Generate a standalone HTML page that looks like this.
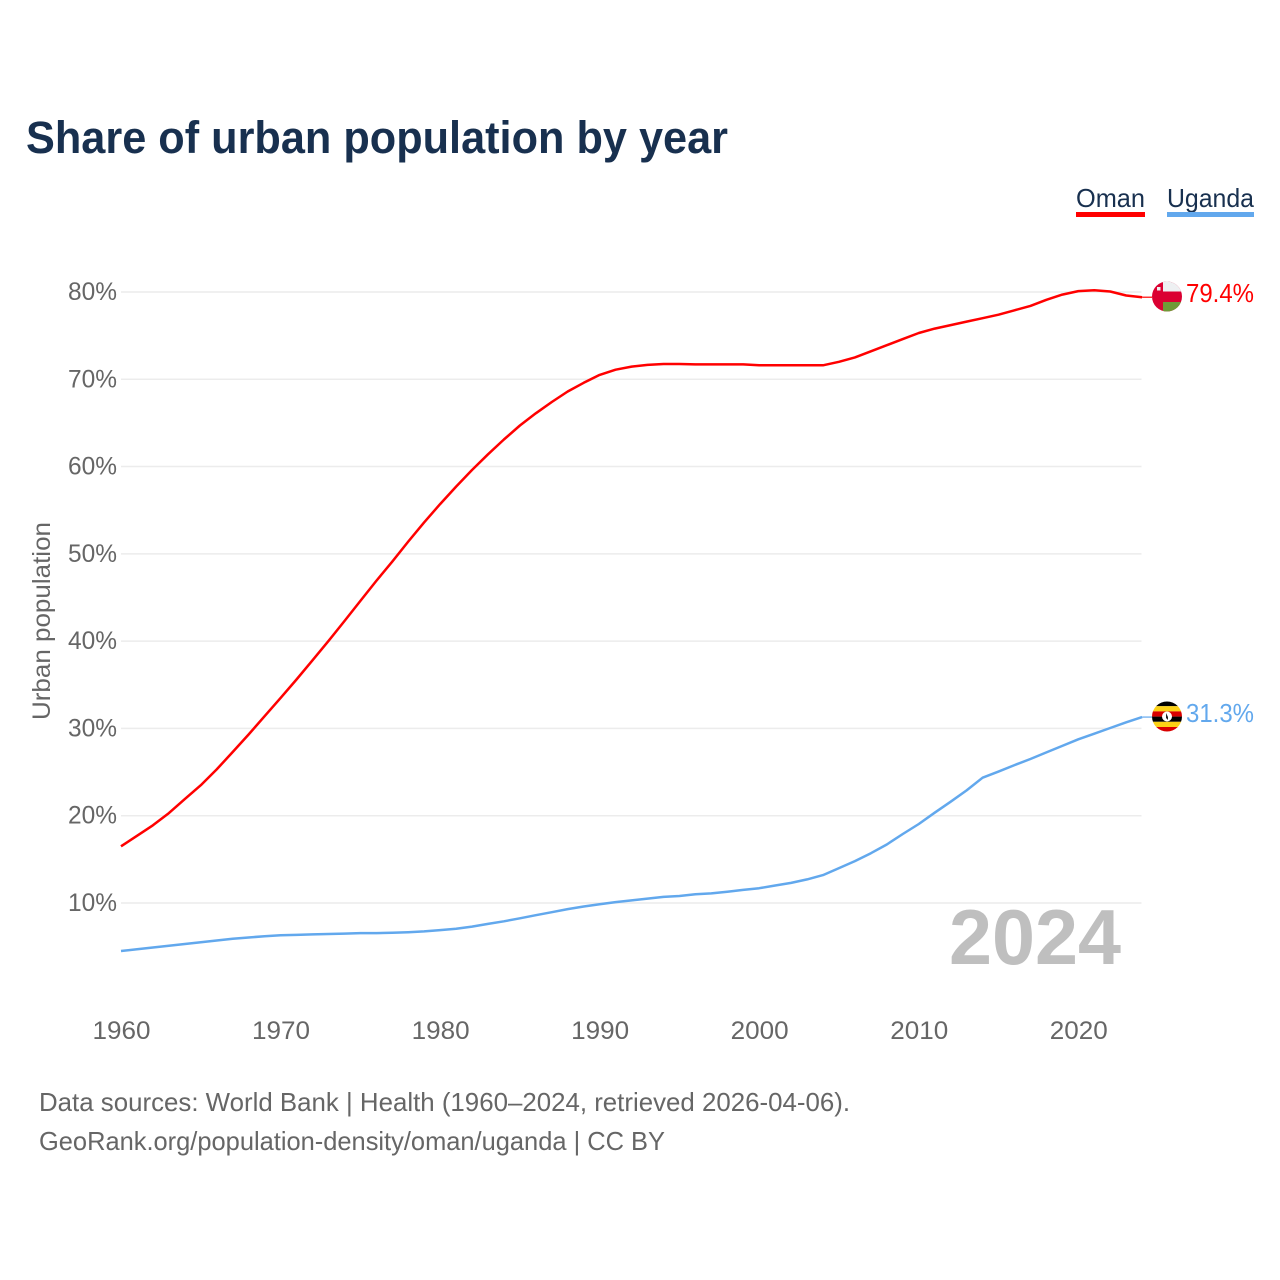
<!DOCTYPE html>
<html lang="en">
<head>
<meta charset="utf-8">
<title>Share of urban population by year</title>
<style>
html,body{margin:0;padding:0;background:#fff;width:1280px;height:1280px;overflow:hidden}
svg{display:block}
text{font-family:"Liberation Sans",sans-serif}
</style>
</head>
<body>
<svg id="chart" width="1280" height="1280" viewBox="0 0 1280 1280" xmlns="http://www.w3.org/2000/svg">
  <rect width="1280" height="1280" fill="#fff"/>
  <text x="26" y="153" font-size="45" font-weight="700" fill="#18304f" textLength="702" lengthAdjust="spacingAndGlyphs">Share of urban population by year</text>
  <g>
    <text x="1076" y="207" font-size="26" fill="#18304f" textLength="69" lengthAdjust="spacingAndGlyphs">Oman</text>
    <rect x="1076" y="212" width="69" height="5" fill="#ff0000"/>
  </g>
  <g>
    <text x="1167" y="207" font-size="26" fill="#18304f" textLength="87" lengthAdjust="spacingAndGlyphs">Uganda</text>
    <rect x="1167" y="212" width="87" height="5" fill="#62a8ed"/>
  </g>
  <g id="grid"></g>
  <g id="yticks"></g>
  <g id="xticks"></g>
  <text transform="translate(50,621) rotate(-90)" text-anchor="middle" font-size="25" fill="#666" textLength="198" lengthAdjust="spacingAndGlyphs">Urban population</text>
  <text x="949" y="964" font-size="78" font-weight="700" fill="#bfbfbf" textLength="172" lengthAdjust="spacingAndGlyphs">2024</text>
  <g id="series"></g>
  <g>
    <clipPath id="clip-om"><circle cx="1167" cy="296.5" r="15"/></clipPath>
    <g clip-path="url(#clip-om)">
      <rect x="1152" y="281" width="30" height="31" fill="#db0032"/>
      <rect x="1163" y="281" width="19" height="10.500" fill="#eef0f2"/>
      <rect x="1163" y="302" width="19" height="10" fill="#6f9a37"/>
      <rect x="1157" y="287" width="3.500" height="3.500" fill="#eee"/>
    </g>
  </g>
  <g>
    <clipPath id="clip-ug"><circle cx="1167" cy="716.5" r="15"/></clipPath>
    <g clip-path="url(#clip-ug)">
      <rect x="1152" y="701" width="30" height="5.200" fill="#000"/>
      <rect x="1152" y="706.200" width="30" height="5.200" fill="#fcd116"/>
      <rect x="1152" y="711.400" width="30" height="5.200" fill="#d90000"/>
      <rect x="1152" y="716.600" width="30" height="5.200" fill="#000"/>
      <rect x="1152" y="721.800" width="30" height="5.200" fill="#fcd116"/>
      <rect x="1152" y="727" width="30" height="5.200" fill="#d90000"/>
      <circle cx="1167" cy="716.500" r="5" fill="#fff"/>
      <path d="M1166 713v5l2 2v-3z" fill="#222"/>
    </g>
  </g>
  <text id="label-oman" x="1186" y="302" font-size="26" fill="#ff0000" textLength="68" lengthAdjust="spacingAndGlyphs"></text>
  <text id="label-uganda" x="1186" y="722" font-size="26" fill="#62a8ed" textLength="68" lengthAdjust="spacingAndGlyphs"></text>
  <text x="39" y="1111" font-size="26" fill="#666" textLength="811" lengthAdjust="spacingAndGlyphs">Data sources: World Bank | Health (1960–2024, retrieved 2026-04-06).</text>
  <a><text x="39" y="1150" font-size="26" fill="#666" textLength="626" lengthAdjust="spacingAndGlyphs">GeoRank.org/population-density/oman/uganda | CC BY</text></a>
</svg>
<script>
const years = [1960,1961,1962,1963,1964,1965,1966,1967,1968,1969,1970,1971,1972,1973,1974,1975,1976,1977,1978,1979,1980,1981,1982,1983,1984,1985,1986,1987,1988,1989,1990,1991,1992,1993,1994,1995,1996,1997,1998,1999,2000,2001,2002,2003,2004,2005,2006,2007,2008,2009,2010,2011,2012,2013,2014,2015,2016,2017,2018,2019,2020,2021,2022,2023,2024];
const omanValues = [16.5,17.7,18.9,20.3,21.9,23.5,25.3,27.3,29.3,31.4,33.5,35.6,37.8,40.0,42.3,44.6,46.9,49.1,51.4,53.6,55.7,57.7,59.6,61.4,63.1,64.7,66.1,67.4,68.6,69.6,70.5,71.1,71.45,71.65,71.75,71.75,71.7,71.7,71.7,71.7,71.6,71.6,71.6,71.6,71.6,72.0,72.5,73.2,73.9,74.6,75.3,75.8,76.2,76.6,77.0,77.4,77.9,78.4,79.1,79.7,80.1,80.2,80.05,79.6,79.4];
const ugandaValues = [4.5,4.7,4.9,5.1,5.3,5.5,5.7,5.9,6.05,6.2,6.3,6.35,6.4,6.45,6.5,6.55,6.55,6.6,6.65,6.75,6.9,7.05,7.3,7.6,7.9,8.25,8.6,8.95,9.3,9.6,9.85,10.1,10.3,10.5,10.7,10.8,11.0,11.1,11.3,11.5,11.7,12.0,12.3,12.7,13.2,14.0,14.8,15.7,16.7,17.9,19.05,20.35,21.6,22.9,24.35,25.05,25.8,26.5,27.25,28.0,28.75,29.4,30.05,30.7,31.3];
const yTickValues = [10,20,30,40,50,60,70,80];
const xTickValues = [1960,1970,1980,1990,2000,2010,2020];

const NS = 'http://www.w3.org/2000/svg';
function xScale(year){ return 121 + (year - 1960) * 15.955; }
function yScale(v){ return 903 - (v - 10) * 8.729; }
function make(tag, attrs, parent){
  const el = document.createElementNS(NS, tag);
  for (const k in attrs) el.setAttribute(k, attrs[k]);
  parent.appendChild(el);
  return el;
}
const grid = document.getElementById('grid');
const yticks = document.getElementById('yticks');
const xticks = document.getElementById('xticks');
const series = document.getElementById('series');

yTickValues.forEach(function(v){
  const line = make('line', {x1:121, x2:1141.5, y1:yScale(v), y2:yScale(v), stroke:'#ececec', 'stroke-width':1.500}, grid);
  
  
  const t = make('text', {x:117, y:yScale(v)+8, 'text-anchor':'end', 'font-size':25, fill:'#666', textLength:49, lengthAdjust:'spacingAndGlyphs'}, yticks);
  
  
  t.textContent = v + '%';
});
xTickValues.forEach(function(y){
  const t = make('text', {x:xScale(y)+0.5, y:1039, 'text-anchor':'middle', 'font-size':25, fill:'#666', textLength:58, lengthAdjust:'spacingAndGlyphs'}, xticks);
  
  
  t.textContent = y;
});
function drawLine(values, color, name){
  const pts = values.map(function(v, i){ return xScale(years[i]).toFixed(1) + ',' + yScale(v).toFixed(1); });
  const p = make('polyline', {points:pts.join(' '), fill:'none', stroke:color, 'stroke-width':2.500, 'stroke-linejoin':'round'}, series);
  
  
  const lastIndex = values.length - 1;
  const lastY = yScale(values[lastIndex]);
  const c = make('line', {x1:xScale(years[lastIndex]), x2:1152, y1:lastY, y2:lastY, stroke:color, 'stroke-width':1.200}, series);
  
  
}
drawLine(omanValues, '#ff0000', 'line-oman');
drawLine(ugandaValues, '#62a8ed', 'line-uganda');
document.getElementById('label-oman').textContent = omanValues[omanValues.length - 1].toFixed(1) + '%';
document.getElementById('label-uganda').textContent = ugandaValues[ugandaValues.length - 1].toFixed(1) + '%';
</script>
</body>
</html>
